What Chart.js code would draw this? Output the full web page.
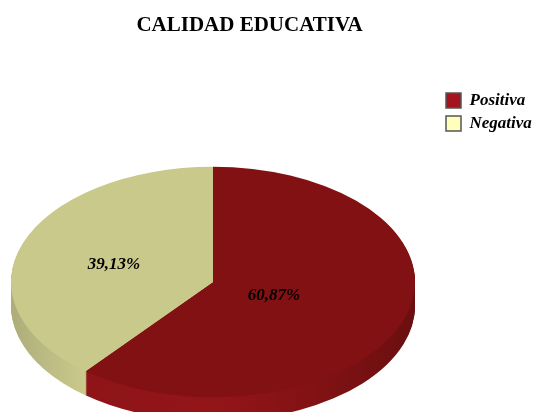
<!DOCTYPE html>
<html>
<head>
<meta charset="utf-8">
<style>
  html, body { margin: 0; padding: 0; background: #fff; }
  canvas { display: block; }
</style>
<script src="https://cdn.jsdelivr.net/npm/chart.js@4/dist/chart.umd.min.js"></script>
</head>
<body>
<canvas id="grafico" width="535" height="412"></canvas>
<script>
const categorias = ['Positiva', 'Negativa'];
const valores = [60.87, 39.13];
const coloresSector = ['#821113', '#C9C98C'];
const coloresLeyenda = ['#A5141E', '#FFFFBB'];

// Geometria del pastel aplanado
const centroX = 213, centroY = 282;
const radio = 202, aplanado = 0.57, grosor = 24;
// Distancia de cada etiqueta al centro (fraccion del radio) y ajuste vertical
const radioEtiqueta = [0.32, 0.52];
const ajusteEtiqueta = [1, 3];

function gradienteLado(ctx, i, dx) {
  const g = ctx.createLinearGradient(11 - dx, 0, 415 - dx, 0);
  if (i === 0) {
    g.addColorStop(0.18, '#8E1418');
    g.addColorStop(0.5, '#931518');
    g.addColorStop(0.75, '#821214');
    g.addColorStop(1, '#6A0F10');
  } else {
    g.addColorStop(0, '#AEAD7A');
    g.addColorStop(0.18, '#C9C98C');
  }
  return g;
}

const pastel3d = {
  id: 'pastel3d',
  beforeDatasetsDraw(chart) {
    const ctx = chart.ctx;
    const arcos = chart.getDatasetMeta(0).data;
    const a = arcos[0];
    const dx = centroX - a.x;
    // Cuerpo del pastel: los mismos sectores repetidos hacia abajo
    for (let d = grosor; d > 0; d--) {
      arcos.forEach((arco, i) => {
        ctx.save();
        ctx.translate(centroX, centroY + d);
        ctx.scale(1, aplanado);
        ctx.translate(-a.x, -a.y);
        const original = arco.options;
        const opciones = Object.create(original);
        opciones.backgroundColor = gradienteLado(ctx, i, dx);
        opciones.borderWidth = 0;
        arco.options = opciones;
        arco.draw(ctx);
        arco.options = original;
        ctx.restore();
      });
    }
    // Cara superior, la dibuja la libreria con este contexto
    ctx.save();
    ctx.translate(centroX, centroY);
    ctx.scale(1, aplanado);
    ctx.translate(-a.x, -a.y);
  },
  afterDatasetsDraw(chart) {
    const ctx = chart.ctx;
    ctx.restore();
    ctx.save();
    ctx.font = 'italic bold 17px "Liberation Serif"';
    ctx.fillStyle = '#000';
    ctx.textAlign = 'center';
    ctx.textBaseline = 'middle';
    chart.getDatasetMeta(0).data.forEach((arco, i) => {
      const medio = (arco.startAngle + arco.endAngle) / 2;
      const r = radio * radioEtiqueta[i];
      const x = centroX + Math.cos(medio) * r;
      const y = centroY + Math.sin(medio) * r * aplanado + ajusteEtiqueta[i];
      ctx.fillText(valores[i].toFixed(2).replace('.', ',') + '%', x, y);
    });
    ctx.restore();
  },
  afterLayout(chart) {
    // El titulo no va centrado en el lienzo
    chart.titleBlock.left -= 18;
    chart.titleBlock.right -= 18;
    // La leyenda va a la derecha, a la altura de 92px
    chart.legend.left = 440;
    chart.legend.top = 86;
  }
};

new Chart(document.getElementById('grafico'), {
  type: 'pie',
  data: {
    labels: categorias,
    datasets: [{
      data: valores,
      backgroundColor: coloresSector,
      borderWidth: 0,
      radius: radio
    }]
  },
  options: {
    responsive: false,
    animation: false,
    plugins: {
      title: {
        display: true,
        text: 'CALIDAD EDUCATIVA',
        color: '#000',
        font: { family: '"Liberation Serif"', size: 21, weight: 'bold' },
        padding: { top: 13, bottom: 0 }
      },
      legend: {
        position: 'right',
        align: 'start',
        labels: {
          boxWidth: 15,
          boxHeight: 15,
          padding: 6,
          color: '#000',
          font: { family: '"Liberation Serif"', size: 17, weight: 'bold', style: 'italic' },
          generateLabels() {
            return categorias.map((c, i) => ({
              text: c,
              fillStyle: coloresLeyenda[i],
              strokeStyle: '#555555',
              lineWidth: 1.5,
              index: i
            }));
          }
        }
      },
      tooltip: { enabled: false }
    }
  },
  plugins: [pastel3d]
});
</script>
</body>
</html>
